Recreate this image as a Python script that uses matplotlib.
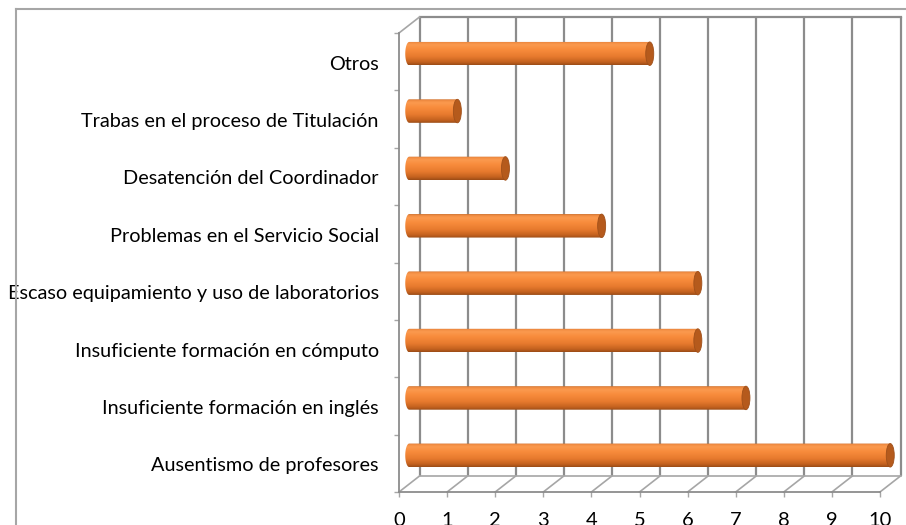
import numpy as np
import matplotlib
matplotlib.use("Agg")
import matplotlib.pyplot as plt
from matplotlib.patches import Polygon, Ellipse
from matplotlib.lines import Line2D
from matplotlib.colors import LinearSegmentedColormap
from matplotlib.transforms import ScaledTranslation

categories = ["Ausentismo de profesores",
              "Insuficiente formación en inglés",
              "Insuficiente formación en cómputo",
              "Escaso equipamiento y uso de laboratorios",
              "Problemas en el Servicio Social",
              "Desatención del Coordinador",
              "Trabas en el proceso de Titulación",
              "Otros"]
values = [10, 7, 6, 6, 4, 2, 1, 5]
xticks = list(range(0, 11))

W, H = 906, 525
fig = plt.figure(figsize=(W / 100, H / 100), dpi=100)
plt.rcParams['font.family'] = ['Lato', 'DejaVu Sans']

# front plane in pixels
L, R, T, B = 399, 880, 33, 492
pxx = (R - L) / 10.0
pxy = (B - T) / 8.0
XMAX = (W - L) / pxx
ax = fig.add_axes([L / W, (H - B) / H, (W - L) / W, (B - T) / H])
ax.set_xlim(0, XMAX)
ax.set_ylim(-0.5, 7.5)
DX = 20.5 / pxx
DY = 16 / pxy

grid_c = '#8c8c8c'
floor_c = '#a6a6a6'

for s in ['top', 'right']:
    ax.spines[s].set_visible(False)
for s in ['left', 'bottom']:
    ax.spines[s].set_color(grid_c)
    ax.spines[s].set_linewidth(1.3)
ax.spines['bottom'].set_bounds(0, 10)

# back wall grid lines
for k in xticks:
    ax.plot([k + DX, k + DX], [-0.5 + DY, 7.5 + DY], color=grid_c, lw=1.6,
            clip_on=False, zorder=1, solid_capstyle='butt')
    if k > 0:
        ax.plot([k, k + DX], [-0.5, -0.5 + DY], color=floor_c, lw=1.2,
                clip_on=False, zorder=1)
ax.plot([DX, 10 + DX], [7.5 + DY, 7.5 + DY], color=grid_c, lw=1.6, clip_on=False, zorder=1)
ax.plot([DX, 10 + DX], [-0.5 + DY, -0.5 + DY], color=floor_c, lw=1.2, clip_on=False, zorder=1)
ax.plot([0, DX], [7.5, 7.5 + DY], color=floor_c, lw=1.2, clip_on=False, zorder=1)
ax.plot([0, DX], [-0.5, -0.5 + DY], color=floor_c, lw=1.2, clip_on=False, zorder=1)

# bars (cylinders at mid depth)
cmap = LinearSegmentedColormap.from_list('cyl', [
    (0.0, '#9c4c16'), (0.12, '#c4621f'), (0.35, '#e77a2e'),
    (0.65, '#f88c3c'), (0.85, '#fb9a4e'), (0.95, '#f08c42'), (1.0, '#cc6e2a')])
ry = 11.75 / pxy
rx = 4.0 / pxx
grad = np.linspace(0, 1, 64).reshape(-1, 1)
for i, v in enumerate(values):
    yc = i + DY / 2
    x0 = DX / 2
    x1 = v + DX / 2
    th = np.linspace(np.pi / 2, 3 * np.pi / 2, 30)
    left = np.column_stack([x0 + rx * np.cos(th), yc + ry * np.sin(th)])
    verts = np.vstack([[[x1, yc + ry]], left, [[x1, yc - ry]]])
    body = Polygon(verts, closed=True, facecolor='none', edgecolor='none')
    ax.add_patch(body)
    im = ax.imshow(grad, cmap=cmap, aspect='auto', origin='lower',
                   extent=[x0 - rx, x1, yc - ry, yc + ry], zorder=3)
    im.set_clip_path(body)
    cap = Ellipse((x1, yc), 2 * rx, 2 * ry, facecolor='#b55a1c',
                  edgecolor='#a0501a', lw=0.6, zorder=4, clip_on=False)
    ax.add_patch(cap)

ax.set_xlim(0, XMAX)
ax.set_ylim(-0.5, 7.5)

# ticks and labels
ax.set_xticks(xticks)
ax.set_xticklabels([str(t) for t in xticks])
ax.set_yticks(range(len(categories)))
ax.set_yticklabels(categories)
ax.set_yticks(np.arange(-0.5, 8, 1.0), minor=True)
ax.tick_params(axis='y', which='major', length=0, pad=14.5, labelsize=14.3, labelcolor='black')
ax.tick_params(axis='y', which='minor', length=3.6, width=1.0, color=floor_c, direction='out')
ax.tick_params(axis='x', which='major', length=3.6, width=1.0, color=floor_c, pad=10.5,
               labelsize=14.5, labelcolor='black')
shift = ScaledTranslation(0, -0.01, fig.dpi_scale_trans)
for lbl in ax.get_yticklabels():
    lbl.set_transform(lbl.get_transform() + shift)

# chart area border (cropped)
fig.add_artist(Line2D([16 / W, 1], [1 - 8.5 / H, 1 - 8.5 / H], color='#a6a6a6', lw=1.5))
fig.add_artist(Line2D([16 / W, 16 / W], [0, 1 - 8.5 / H], color='#a6a6a6', lw=1.5))

fig.savefig('out.png', dpi=100)
